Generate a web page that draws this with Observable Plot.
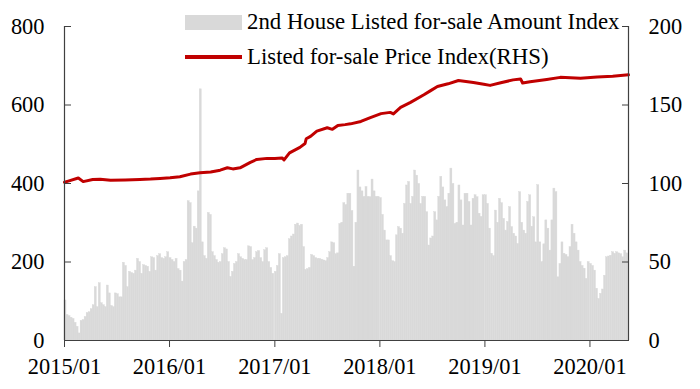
<!DOCTYPE html>
<html><head><meta charset="utf-8">
<script src="https://cdn.jsdelivr.net/npm/d3@7"></script>
<script src="https://cdn.jsdelivr.net/npm/@observablehq/plot@0.6"></script>
<style>
body{margin:0;background:#fff;}
#wrap{position:relative;width:700px;height:389px;font-family:"Liberation Serif","Times New Roman",serif;}
.leg{position:absolute;left:185px;height:24px;display:flex;align-items:center;font-size:22.8px;color:#000;white-space:nowrap;}
.sw{width:57px;margin-right:5px;}
</style></head><body><div id="wrap"></div>
<script>
// Weekly "2nd House Listed for-sale Amount Index" (left axis), one array per year
const amount2015 = [102,65,62,58,55,45,35,18,50,52,60,70,72,80,90,136,85,146,95,90,85,140,120,88,85,120,118,110,110,198,190,136,175,172,170,178,208,200,170,192,190,188,175,212,210,178,215,220,210,208,212,225];
const amount2016 = [210,205,200,208,182,178,150,200,205,355,350,248,290,285,380,640,250,215,208,325,320,225,215,205,198,200,220,235,232,200,162,175,195,200,220,212,208,205,205,240,238,205,210,225,228,210,200,230,235,200,185,170];
const amount2017 = [175,190,220,68,210,212,215,258,265,270,295,298,292,295,238,180,182,185,218,215,210,208,208,206,204,202,210,225,250,248,220,222,297,300,350,345,374,374,330,188,300,433,390,380,366,391,366,365,410,380,366,366];
const amount2018 = [363,320,280,255,255,215,202,200,268,289,285,272,348,395,404,348,366,433,420,399,348,366,366,327,242,260,265,327,306,366,417,390,357,340,374,438,399,297,300,395,357,293,374,374,353,293,361,370,365,323,315,370];
const amount2019 = [370,348,285,221,215,331,300,361,350,310,280,302,340,289,272,265,246,378,300,280,272,353,370,290,314,250,396,250,200,245,306,285,229,306,387,378,161,195,250,221,218,212,238,295,272,250,229,200,190,183,157,200];
const amount2020 = [195,190,178,132,106,119,130,165,212,214,216,225,221,225,222,220,212,229,222];
const amountYears = [2015,2016,2017,2018,2019,2020];
const amountByYear = [amount2015,amount2016,amount2017,amount2018,amount2019,amount2020];

// "Listed for-sale Price Index(RHS)" (right axis)
const priceDates = ["2015-01-01","2015-01-14","2015-02-18","2015-03-07","2015-04-09","2015-05-05","2015-06-10","2015-07-31","2015-09-20","2015-10-27","2015-11-29","2016-01-03","2016-02-06","2016-03-14","2016-04-16","2016-05-23","2016-06-25","2016-07-20","2016-08-08","2016-09-02","2016-10-08","2016-10-30","2016-12-05","2017-01-01","2017-01-26","2017-02-02","2017-02-21","2017-03-29","2017-04-16","2017-04-20","2017-05-05","2017-05-27","2017-07-02","2017-07-20","2017-08-08","2017-09-02","2017-09-21","2017-10-27","2017-11-29","2018-01-05","2018-02-06","2018-02-17","2018-03-14","2018-04-16","2018-06-03","2018-06-25","2018-07-20","2018-08-26","2018-10-01","2018-10-27","2018-11-22","2018-12-28","2019-01-19","2019-02-25","2019-04-09","2019-05-05","2019-05-12","2019-06-07","2019-08-04","2019-09-20","2019-11-29","2020-01-26","2020-03-20","2020-05-14"];
const priceValues = [100.8,101.5,103.5,101.2,102.5,102.7,102,102.2,102.6,102.8,103.2,103.6,104.3,106,106.8,107.3,108.5,110,109.3,110,113.5,115.3,116,116,116.3,115,119.5,123,125.5,128.5,130,133.4,135.5,134.5,137,137.5,138,139.5,142,144.5,145.3,144.3,148.5,151.5,156.5,159,161.8,163.5,165.6,165,164.3,163.2,162.5,164.2,166,166.6,164,164.8,166.3,167.6,167,167.8,168.3,169.2];

const xDomain = ["2015-01-01","2020-05-14"];
const xTicks = ["2015-01-01","2016-01-01","2017-01-01","2018-01-01","2019-01-01","2020-01-01"];
const leftTicks = [0,200,400,600,800];
const rightTicks = [0,50,100,150,200];
const seriesNames = ["2nd House Listed for-sale Amount Index","Listed for-sale Price Index(RHS)"];
const barColor = "#d9d9d9", lineColor = "#c00000", axisColor = "#404040";
const rhsFactor = 4; // 0–200 (RHS) maps onto 0–800 (LHS)

const pd = s => new Date(s + "T00:00:00Z");
const DAY = 86400000;
const bars = [];
amountYears.forEach((yr, k) => {
  amountByYear[k].forEach((v, i) => {
    const date = new Date(Date.UTC(yr, 0, 1 + 7 * i));
    bars.push({date, end: new Date(+date + 7 * DAY), v});
  });
});
const price = priceDates.map((d, i) => ({date: pd(d), v: priceValues[i]}));
const dom = xDomain.map(pd);

const chart = Plot.plot({
  width: 700, height: 389,
  marginLeft: 64, marginRight: 72, marginTop: 26, marginBottom: 49,
  style: {fontFamily: '"Liberation Serif","Times New Roman",serif', fontSize: "22.4px", color: "#000", background: "#fff"},
  x: {type: "utc", domain: dom},
  y: {domain: [0, 800]},
  marks: [
    Plot.rectY(bars, {x1: "date", x2: "end", y: "v", fill: barColor, stroke: barColor, strokeWidth: 0.4, inset: 0}),
    Plot.line(price, {x: "date", y: d => d.v * rhsFactor, stroke: lineColor, strokeWidth: 3}),
    Plot.ruleY([0], {stroke: axisColor, strokeWidth: 1.2}),
    Plot.ruleX([dom[0], dom[1]], {stroke: axisColor, strokeWidth: 1.2}),
    Plot.axisX({ticks: xTicks.map(pd), tickFormat: d3.utcFormat("%Y/%m"), tickSize: 7, tickPadding: 11, stroke: axisColor, label: null}),
    Plot.axisY({anchor: "left", ticks: leftTicks, tickSize: -7, tickPadding: 27, stroke: axisColor, label: null}),
    Plot.axisY({anchor: "right", ticks: rightTicks.map(v => v * rhsFactor), tickFormat: d => d / rhsFactor, tickSize: -7, tickPadding: 27, stroke: axisColor, label: null})
  ]
});
const wrap = document.getElementById("wrap");
wrap.appendChild(chart);

const l1 = document.createElement("div");
l1.className = "leg"; l1.style.top = "10px";
l1.innerHTML = `<div class="sw" style="height:15px;background:${barColor}"></div><span>${seriesNames[0]}</span>`;
const l2 = document.createElement("div");
l2.className = "leg"; l2.style.top = "45px";
l2.innerHTML = `<div class="sw" style="height:3.5px;background:${lineColor}"></div><span>${seriesNames[1]}</span>`;
wrap.appendChild(l1); wrap.appendChild(l2);
</script></body></html>
